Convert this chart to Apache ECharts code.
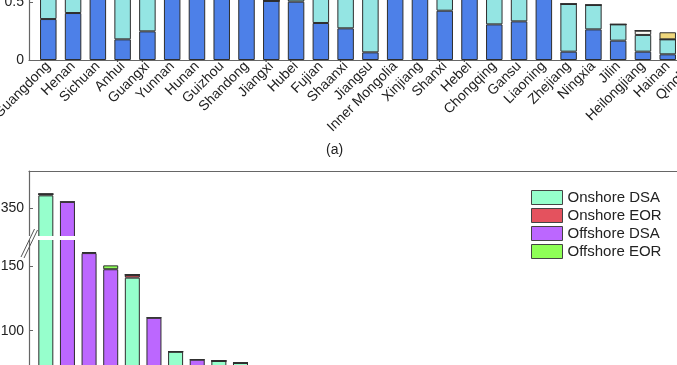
<!DOCTYPE html>
<html><head><meta charset="utf-8">
<script src="https://cdn.jsdelivr.net/npm/echarts@6/dist/echarts.min.js"></script>
<style>html,body{margin:0;padding:0;background:#fff}#c{width:677px;height:365px}</style>
</head><body><div id="c"></div>
<script>
// ---- Panel (a): provinces (stacked shares) ----
const provinces = ['Guangdong','Henan','Sichuan','Anhui','Guangxi','Yunnan','Hunan','Guizhou','Shandong','Jiangxi','Hubei','Fujian','Shaanxi','Jiangsu','Inner Mongolia','Xinjiang','Shanxi','Hebei','Chongqing','Gansu','Liaoning','Zhejiang','Ningxia','Jilin','Heilongjiang','Hainan','Qinghai'];
const provBlue   = [0.353,0.405,0.90,0.178,0.247,0.85,0.80,0.78,0.75,0.51,0.503,0.319,0.273,0.066,0.90,0.85,0.425,0.70,0.307,0.333,0.65,0.072,0.264,0.167,0.072,0.049,0.06];
const provCyan   = [0.55,0.45,0,0.62,0.50,0,0,0,0,0,0.02,0.40,0.42,0.62,0,0,0.20,0,0.35,0.30,0,0.411,0.21,0.14,0.144,0.129,0.10];
const provWhite  = [0,0,0,0,0,0,0,0,0,0,0,0,0,0,0,0,0,0,0,0,0,0,0,0,0.037,0,0];
const provYellow = [0,0,0,0,0,0,0,0,0,0,0,0,0,0,0,0,0,0,0,0,0,0,0,0,0,0.061,0.04];
const topTicks = [0, 0.5, 1];

// ---- Panel (b): stacked bars with broken axis ----
const sites = ['1','2','3','4','5','6','7','8','9','10'];
const onshoreDSA  = [360, 0, 0, 0, 141, 0, 83.8, 0, 76.6, 75];
const onshoreEOR  = [1, 0, 0, 0, 2.2, 0, 0, 0, 0, 0];
const offshoreDSA = [0, 355, 160, 147.5, 0, 110, 0, 77.6, 0, 0];
const offshoreEOR = [0, 0, 0.8, 3, 0, 0, 0, 0, 0, 0];
const legendNames = ['Onshore DSA','Onshore EOR','Offshore DSA','Offshore EOR'];
const upperTicks = [350];
const lowerTicks = [0, 50, 100, 150];

const FF = "'Liberation Sans', Arial, Helvetica, sans-serif";
const AX = '#666';
const BORDER = '#2e2e2e';

const chart = echarts.init(document.getElementById('c'), null, {renderer:'canvas'});

const topColors = ['#4d80e8','#94e5e3','#fbfbf6','#efd77c'];
const topData = [provBlue, provCyan, provWhite, provYellow];
const topSeries = topData.map((d,i)=>({
  type:'bar', name:'p'+i, xAxisIndex:0, yAxisIndex:0, stack:'prov', data:d,
  barWidth:16.5, itemStyle:{color:topColors[i], borderColor:BORDER, borderWidth:1}, silent:true
}));

const botColors = ['#96ffcc','#e4525e','#bc67ff','#8eff56'];
const botData = [onshoreDSA, onshoreEOR, offshoreDSA, offshoreEOR];
const botSeries = [];
[2,3].forEach(g=>{
  botData.forEach((d,i)=>{
    botSeries.push({type:'bar', name:legendNames[i], xAxisIndex:g, yAxisIndex:g, stack:'s'+g, data:d,
      barWidth:15, itemStyle:{color:botColors[i], borderColor:BORDER, borderWidth:1}, silent:true});
  });
});

const hiddenVal = (g)=>({gridIndex:g, type:'value', min:0, max:1, show:false});
const frameX = (g,pos)=>({gridIndex:g, type:'value', min:0, max:1, position:pos,
  axisLine:{show:true, onZero:false, lineStyle:{color:AX, width:1.2}}, axisTick:{show:false},
  axisLabel:{show:false}, splitLine:{show:false}});
const yStyle = (g,min,max,ticks,off)=>({gridIndex:g, type:'value', min:min, max:max, offset:off,
  axisLine:{show:true, lineStyle:{color:AX, width:1.2}},
  axisTick:{show:true, inside:true, length:4, customValues:ticks, lineStyle:{color:AX}},
  axisLabel:{show:true, customValues:ticks, margin:5, fontSize:14, color:'#222', fontFamily:FF},
  splitLine:{show:false}});

const option = {
  animation:false,
  backgroundColor:'#fff',
  title:{text:'(a)', left:326, top:143, padding:0, textStyle:{fontSize:14, fontWeight:'normal', color:'#222', fontFamily:FF}},
  legend:{data:legendNames, orient:'vertical', left:531, top:190, padding:0, itemWidth:31, itemHeight:14, itemGap:3,
    icon:'rect', itemStyle:{borderColor:'#444', borderWidth:1},
    textStyle:{fontSize:15, color:'#222', fontFamily:FF}, selectedMode:false},
  grid:[
    {left:35.9, top:-56, width:669, height:116, outerBoundsMode:'none'},
    {left:29, top:-56, width:700, height:116, outerBoundsMode:'none'},
    {left:35, top:171, width:216.3, height:67, outerBoundsMode:'none'},
    {left:35, top:238, width:216.3, height:222, outerBoundsMode:'none'},
    {left:29, top:171, width:700, height:67, outerBoundsMode:'none'}
  ],
  xAxis:[
    {gridIndex:0, type:'category', data:provinces, axisLine:{show:false}, axisTick:{show:false},
      axisLabel:{interval:0, rotate:45, margin:4, fontSize:14, color:'#222', fontFamily:FF}},
    frameX(1,'bottom'),
    {gridIndex:2, type:'category', data:sites, show:false},
    {gridIndex:3, type:'category', data:sites, show:false},
    frameX(4,'top')
  ],
  yAxis:[
    yStyle(0, 0, 1, topTicks, 6.9),
    hiddenVal(1),
    yStyle(2, 327, 378.85, upperTicks, 6),
    yStyle(3, 0, 171.66, lowerTicks, 6),
    hiddenVal(4)
  ],
  graphic:[
    {type:'rect', z:100, shape:{x:18, y:236, width:245, height:4}, style:{fill:'#fff'}},
    {type:'line', z:101, shape:{x1:21, y1:257, x2:34.5, y2:229}, style:{stroke:'#555', lineWidth:1}},
    {type:'line', z:101, shape:{x1:24, y1:258, x2:37.5, y2:230}, style:{stroke:'#555', lineWidth:1}}
  ],
  series: topSeries.concat(botSeries)
};
chart.setOption(option);
</script></body></html>
